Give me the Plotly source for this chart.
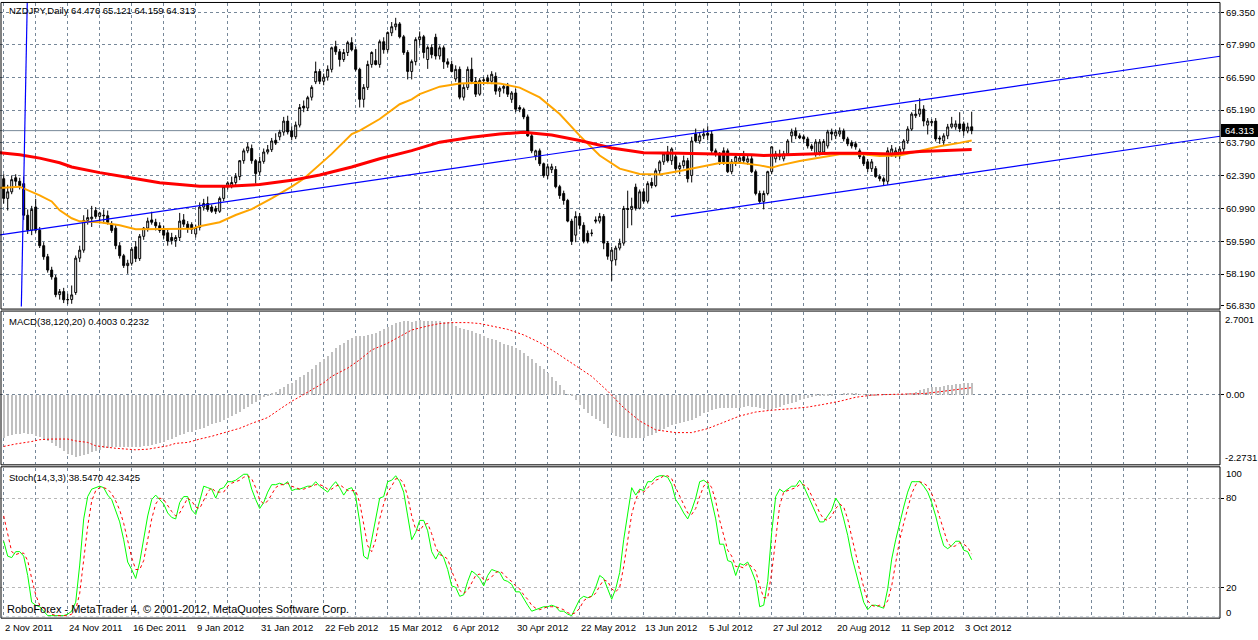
import plotly.graph_objects as go
from plotly.subplots import make_subplots

# NZDJPY daily, 2 Nov 2011 .. 5 Oct 2012 (bar index 0..242)
open_px = [
    62.26, 61.42, 61.70, 62.30, 62.15, 62.05, 60.70, 60.06, 61.05, 60.06,
    59.40, 58.93, 58.36, 58.03, 57.31, 57.44, 57.09, 57.10, 57.40, 58.87,
    59.21, 60.48, 60.55, 60.90, 60.65, 60.70, 60.68, 60.30, 60.15, 59.40,
    58.97, 58.55, 58.65, 59.35, 58.85, 59.80, 60.15, 60.50, 60.40, 60.25,
    60.10, 59.95, 59.75, 59.62, 59.75, 60.50, 60.32, 60.30, 59.90, 60.18,
    61.05, 61.20, 61.05, 60.98, 60.87, 61.42, 61.92, 61.95, 62.10, 62.35,
    63.03, 63.45, 63.55, 63.03, 62.55, 63.00, 63.40, 63.50, 63.90, 64.05,
    64.25, 64.72, 64.30, 64.05, 64.55, 65.36, 65.28, 65.74, 66.40, 66.84,
    66.42, 66.60, 66.93, 67.90, 67.68, 67.35, 67.65, 68.07, 67.77, 66.93,
    65.65, 66.16, 67.14, 67.30, 67.14, 68.11, 67.77, 68.49, 68.75, 68.87,
    68.32, 67.65, 66.84, 67.26, 68.20, 68.32, 67.35, 67.86, 68.30, 67.50,
    67.85, 67.25, 67.14, 66.52, 66.93, 65.74, 66.16, 66.93, 66.42, 65.87,
    66.45, 66.55, 66.42, 66.63, 66.00, 66.12, 66.20, 65.65, 65.92, 65.30,
    65.23, 64.90, 64.09, 63.24, 63.45, 62.90, 62.39, 62.65, 62.65, 61.92,
    61.63, 61.33, 60.45, 59.85, 60.65, 60.27, 59.93, 59.93, 60.50, 60.45,
    60.65, 59.51, 58.75, 58.80, 59.30, 59.51, 60.99, 60.95, 61.90, 61.00,
    61.70, 61.30, 62.10, 61.97, 62.60, 62.98, 63.40, 63.03, 63.20, 62.69,
    62.82, 63.03, 62.40, 64.17, 63.87, 64.09, 64.20, 64.17, 63.45, 63.32,
    63.45, 63.45, 62.56, 62.98, 63.00, 63.20, 62.98, 63.11, 62.56, 61.63,
    61.29, 61.63, 62.56, 63.11, 63.20, 63.11, 63.32, 64.09, 64.30, 64.09,
    64.05, 63.96, 63.66, 63.32, 63.40, 63.40, 63.66, 64.26, 64.09, 64.17,
    64.30, 63.96, 63.80, 63.75, 63.45, 63.20, 62.98, 62.69, 62.69, 62.35,
    62.26, 62.15, 63.24, 63.24, 63.24, 63.53, 63.87, 64.38, 64.95, 65.02,
    65.23, 64.55, 64.65, 64.72, 64.00, 63.87, 64.09, 64.47, 64.47, 64.60,
    64.60, 64.30, 64.476]
high_px = [
    62.45, 62.00, 62.40, 62.45, 62.30, 62.35, 60.95, 61.10, 61.40, 60.20,
    59.55, 59.05, 58.50, 58.15, 57.55, 57.60, 57.35, 57.70, 58.98, 59.40,
    60.70, 60.95, 61.10, 61.05, 60.85, 60.95, 60.90, 60.45, 60.30, 59.55,
    59.05, 58.80, 59.35, 59.60, 59.90, 60.20, 60.60, 60.85, 60.55, 60.40,
    60.25, 60.10, 59.95, 59.85, 60.80, 60.75, 60.45, 60.40, 60.30, 61.25,
    61.40, 61.50, 61.15, 61.10, 61.50, 61.95, 62.15, 62.35, 62.50, 63.05,
    63.55, 63.80, 63.72, 63.10, 63.20, 63.55, 63.70, 64.00, 64.20, 64.35,
    64.90, 64.95, 64.50, 64.70, 65.45, 65.60, 65.80, 66.25, 67.26, 66.95,
    66.75, 67.10, 67.90, 68.15, 67.80, 67.80, 68.15, 68.30, 67.90, 67.00,
    66.30, 67.30, 67.70, 67.80, 68.20, 68.30, 68.55, 68.95, 69.13, 68.95,
    68.40, 67.75, 67.35, 68.30, 68.55, 68.40, 67.95, 68.00, 68.45, 67.95,
    67.95, 67.40, 67.30, 67.10, 67.05, 66.30, 67.05, 67.43, 66.60, 66.55,
    66.60, 66.70, 66.85, 66.80, 66.20, 66.30, 66.35, 66.00, 66.10, 65.40,
    65.30, 65.00, 64.20, 63.50, 63.55, 62.95, 62.90, 62.90, 62.80, 62.00,
    61.75, 61.40, 60.55, 60.87, 60.80, 60.40, 60.05, 60.10, 60.65, 60.80,
    60.75, 59.60, 59.35, 59.40, 59.70, 61.10, 61.75, 61.45, 62.05, 61.80,
    61.85, 62.15, 62.30, 62.70, 63.05, 63.40, 63.66, 63.60, 63.30, 62.95,
    63.25, 63.15, 64.05, 64.40, 64.25, 64.40, 64.50, 64.30, 63.55, 63.40,
    63.60, 63.55, 63.10, 63.35, 63.30, 63.45, 63.30, 63.25, 62.65, 61.75,
    61.75, 62.60, 63.65, 63.45, 63.50, 63.45, 63.95, 64.40, 64.45, 64.20,
    64.15, 64.05, 63.75, 63.95, 63.95, 63.95, 64.35, 64.40, 64.35, 64.45,
    64.40, 64.05, 63.90, 63.85, 63.55, 63.30, 63.10, 63.10, 62.80, 62.45,
    62.35, 63.60, 63.70, 63.60, 63.65, 63.95, 64.50, 65.10, 65.45, 65.70,
    65.40, 64.85, 64.80, 64.85, 64.10, 64.20, 64.60, 64.90, 64.75, 65.10,
    64.70, 64.65, 65.121]
low_px = [
    61.20, 60.90, 61.60, 61.95, 61.80, 60.50, 59.90, 59.85, 59.95, 59.30,
    58.80, 58.25, 57.95, 57.20, 57.10, 56.95, 56.90, 56.92, 57.30, 58.70,
    59.10, 60.30, 60.20, 60.55, 60.35, 60.35, 60.30, 59.95, 59.25, 58.85,
    58.45, 58.20, 58.55, 58.70, 58.75, 59.65, 60.00, 60.30, 60.05, 59.95,
    59.70, 59.40, 59.45, 59.35, 59.60, 60.20, 59.95, 59.90, 59.75, 60.05,
    60.90, 60.85, 60.80, 60.75, 60.80, 61.30, 61.80, 61.85, 61.95, 62.20,
    62.90, 63.35, 62.90, 62.05, 62.40, 62.90, 63.30, 63.40, 63.70, 63.90,
    64.10, 64.15, 63.90, 63.95, 64.45, 65.10, 65.15, 65.60, 66.30, 66.30,
    66.25, 66.45, 66.80, 67.55, 67.05, 67.25, 67.50, 67.70, 66.85, 65.30,
    65.30, 66.05, 67.00, 67.10, 67.00, 67.60, 67.65, 68.35, 68.60, 68.25,
    67.55, 66.50, 66.50, 67.10, 67.95, 67.40, 66.95, 67.40, 67.35, 67.35,
    66.95, 67.00, 66.80, 66.40, 65.65, 65.60, 66.05, 66.30, 65.75, 65.80,
    66.25, 66.30, 66.30, 65.85, 65.75, 65.90, 65.75, 65.50, 65.10, 65.10,
    64.80, 64.05, 63.35, 63.05, 62.80, 62.30, 62.25, 62.50, 61.85, 61.40,
    61.15, 60.40, 59.43, 59.55, 60.10, 59.50, 59.50, 59.80, 60.35, 60.35,
    59.25, 58.80, 57.90, 58.55, 59.20, 59.40, 60.15, 60.27, 60.90, 60.95,
    61.20, 61.20, 61.85, 61.90, 62.45, 62.85, 62.95, 62.85, 62.60, 62.45,
    62.70, 62.10, 62.10, 63.80, 63.75, 63.95, 63.90, 63.35, 63.20, 62.85,
    62.85, 62.50, 62.45, 62.80, 62.90, 62.90, 62.85, 62.50, 61.55, 61.20,
    60.95, 61.55, 62.45, 62.95, 63.05, 63.00, 63.25, 63.80, 63.95, 63.95,
    63.80, 63.55, 63.45, 63.20, 63.25, 63.30, 63.55, 63.90, 63.95, 64.05,
    63.85, 63.65, 63.55, 63.50, 63.10, 62.80, 62.55, 62.55, 62.30, 62.15,
    61.97, 62.00, 63.20, 63.15, 63.10, 63.40, 63.75, 64.30, 64.85, 64.90,
    64.50, 64.15, 64.50, 63.85, 63.75, 63.70, 63.95, 64.40, 64.35, 64.25,
    64.10, 64.20, 64.159]
close_px = [
    61.42, 61.70, 62.22, 62.15, 61.97, 60.70, 60.06, 60.95, 60.06, 59.40,
    58.93, 58.36, 58.07, 57.31, 57.44, 57.09, 57.10, 57.30, 58.87, 59.21,
    60.48, 60.60, 60.62, 60.65, 60.80, 60.68, 60.40, 60.05, 59.40, 58.97,
    58.55, 58.65, 59.25, 58.85, 59.80, 60.15, 60.45, 60.40, 60.25, 60.05,
    59.85, 59.60, 59.62, 59.75, 60.45, 60.32, 60.15, 60.10, 60.18, 61.05,
    61.20, 60.95, 60.87, 60.87, 61.42, 61.92, 62.08, 62.10, 62.35, 63.03,
    63.45, 63.62, 63.03, 62.48, 63.00, 63.40, 63.50, 63.87, 63.78, 64.25,
    64.72, 64.26, 64.05, 64.55, 65.30, 65.28, 65.72, 66.16, 66.84, 66.42,
    66.60, 66.93, 67.85, 67.68, 67.35, 67.65, 68.07, 67.77, 66.93, 65.65,
    66.16, 67.14, 67.65, 67.14, 68.11, 67.77, 68.50, 68.75, 68.87, 68.32,
    67.65, 66.84, 67.26, 68.20, 68.32, 67.65, 67.86, 67.56, 67.50, 67.85,
    67.25, 67.15, 66.84, 66.93, 65.74, 66.16, 66.93, 66.42, 65.87, 66.45,
    66.48, 66.42, 66.72, 66.00, 66.12, 66.20, 65.87, 65.92, 65.23, 65.23,
    64.90, 64.09, 63.45, 63.45, 62.90, 62.39, 62.77, 62.77, 61.92, 61.54,
    61.33, 60.45, 59.59, 60.65, 60.27, 59.59, 59.59, 59.93, 60.45, 60.65,
    59.51, 58.95, 59.21, 59.30, 59.51, 60.99, 60.95, 61.08, 61.00, 61.70,
    61.30, 62.05, 61.97, 62.60, 62.98, 63.32, 63.03, 63.53, 62.69, 62.82,
    63.03, 62.26, 63.87, 63.87, 64.09, 64.17, 64.12, 63.45, 63.32, 62.98,
    62.98, 62.56, 62.98, 63.20, 63.15, 63.03, 63.11, 62.56, 61.63, 61.29,
    61.63, 62.56, 63.62, 63.32, 63.30, 63.32, 63.87, 64.26, 64.09, 64.00,
    63.96, 63.66, 63.55, 63.83, 63.83, 63.85, 64.26, 64.17, 64.26, 64.30,
    63.96, 63.75, 63.66, 63.62, 63.20, 62.90, 62.69, 62.98, 62.35, 62.26,
    62.15, 63.45, 63.53, 63.45, 63.53, 63.87, 64.38, 65.02, 65.02, 65.23,
    64.72, 64.72, 64.70, 63.96, 63.96, 64.09, 64.47, 64.60, 64.60, 64.40,
    64.30, 64.47, 64.313]

# moving averages (at these bars)
fast_ma_idx = [-1, 0, 4, 7, 9, 12, 14, 17, 19, 24, 29, 33, 37, 42, 47, 49, 54, 58, 62, 67,
               72, 75, 79, 82, 87, 89, 94, 99, 102, 104, 109, 114, 119, 124, 129, 134, 139, 144, 149, 154,
               159, 164, 169, 174, 179, 184, 189, 192, 194, 199, 204, 209, 214, 219, 224, 229, 234, 239, 242]
fast_ma = [61.88, 61.87, 61.92, 61.71, 61.55, 61.29, 60.91, 60.57, 60.44, 60.40,
           60.27, 60.10, 60.10, 60.10, 60.12, 60.23, 60.40, 60.71, 60.96, 61.42,
           61.92, 62.26, 62.85, 63.32, 64.17, 64.31, 64.81, 65.44, 65.65, 65.87,
           66.19, 66.33, 66.36, 66.33, 66.15, 65.73, 65.02, 64.10, 63.25, 62.69,
           62.46, 62.44, 62.59, 62.76, 62.93, 62.94, 62.83, 62.73, 62.83, 63.02,
           63.16, 63.30, 63.32, 63.23, 63.25, 63.46, 63.65, 63.79, 63.89]
slow_ma_idx = [-1, 0, 4, 9, 14, 17, 24, 32, 39, 49, 56, 64, 72, 79, 87, 94, 102, 109, 117, 124,
               130, 137, 144, 152, 160, 169, 179, 187, 190, 199, 207, 214, 222, 229, 237, 242]
slow_ma = [63.37, 63.35, 63.28, 63.14, 62.94, 62.76, 62.52, 62.29, 62.09, 61.94,
           61.94, 62.01, 62.19, 62.42, 62.76, 63.11, 63.46, 63.82, 64.03, 64.17,
           64.24, 64.13, 63.89, 63.57, 63.37, 63.35, 63.32, 63.28, 63.25, 63.30,
           63.35, 63.35, 63.32, 63.42, 63.49, 63.51]

# trend lines (bar index, price)
trend_long_idx = [-0.925, 304.075]
trend_long_px = [59.862, 67.489]
trend_low_idx = [166.8, 304.075]
trend_low_px = [60.642, 64.074]
trend_steep_idx = [5.9, 4.4]
trend_steep_px = [69.89, 56.71]
bid = 64.313

# MACD(38,120,20)
macd_hist = [
    -1.40, -1.35, -1.30, -1.28, -1.26, -1.24, -1.26, -1.28, -1.32, -1.37,
    -1.43, -1.50, -1.56, -1.65, -1.73, -1.82, -1.91, -1.97, -2.01, -1.99,
    -1.95, -1.91, -1.86, -1.82, -1.78, -1.74, -1.72, -1.70, -1.69, -1.69,
    -1.69, -1.69, -1.69, -1.69, -1.68, -1.67, -1.65, -1.63, -1.60, -1.56,
    -1.52, -1.47, -1.43, -1.37, -1.30, -1.26, -1.22, -1.19, -1.15, -1.11,
    -1.07, -1.00, -0.96, -0.91, -0.87, -0.81, -0.74, -0.68, -0.61, -0.55,
    -0.46, -0.38, -0.31, -0.23, -0.18, -0.08, -0.03, 0.05, 0.10, 0.18,
    0.27, 0.36, 0.40, 0.48, 0.57, 0.66, 0.75, 0.86, 0.97, 1.08,
    1.17, 1.28, 1.40, 1.52, 1.61, 1.70, 1.78, 1.85, 1.91, 1.93,
    1.93, 1.94, 1.97, 2.01, 2.08, 2.15, 2.21, 2.28, 2.34, 2.38,
    2.40, 2.40, 2.39, 2.42, 2.44, 2.42, 2.40, 2.40, 2.40, 2.40,
    2.39, 2.38, 2.36, 2.26, 2.19, 2.15, 2.12, 2.08, 2.03, 1.97,
    1.93, 1.86, 1.83, 1.80, 1.72, 1.67, 1.61, 1.58, 1.54, 1.45,
    1.37, 1.26, 1.17, 1.04, 0.94, 0.83, 0.72, 0.59, 0.46, 0.32,
    0.16, 0.03, -0.05, -0.18, -0.32, -0.46, -0.59, -0.70, -0.79, -0.86,
    -0.94, -1.08, -1.24, -1.32, -1.37, -1.39, -1.40, -1.40, -1.40, -1.41,
    -1.39, -1.35, -1.30, -1.24, -1.18, -1.11, -1.04, -0.99, -0.95, -0.91,
    -0.89, -0.86, -0.81, -0.75, -0.68, -0.59, -0.54, -0.48, -0.45, -0.43,
    -0.42, -0.41, -0.41, -0.42, -0.41, -0.38, -0.36, -0.38, -0.40, -0.43,
    -0.46, -0.48, -0.46, -0.44, -0.38, -0.33, -0.29, -0.25, -0.22, -0.16,
    -0.14, -0.10, -0.08, -0.05, -0.03, -0.02, -0.01, -0.01, 0.00, 0.02,
    0.04, 0.05, 0.06, 0.05, 0.03, 0.01, -0.01, -0.01, -0.01, 0.00,
    0.00, 0.01, 0.02, 0.03, 0.03, 0.03, 0.05, 0.08, 0.10, 0.15,
    0.20, 0.23, 0.27, 0.27, 0.27, 0.29, 0.31, 0.32, 0.36, 0.37,
    0.38, 0.38, 0.4003]
macd_sig_idx = [0, 3, 7, 9, 12, 16, 18, 21, 23, 26, 28, 31, 33, 36, 38, 41, 43, 46, 49, 52,
                56, 59, 62, 66, 69, 72, 75, 77, 80, 82, 86, 89, 92, 96, 99, 102, 106, 109, 112, 116,
                119, 122, 126, 130, 134, 138, 142, 147, 151, 155, 159, 163, 168, 172, 176, 180, 184, 188, 192, 197,
                201, 205, 209, 213, 217, 221, 226, 230, 234, 238, 242]
macd_sig = [-1.69, -1.61, -1.53, -1.47, -1.45, -1.45, -1.51, -1.56, -1.67, -1.73,
            -1.75, -1.78, -1.80, -1.78, -1.73, -1.67, -1.59, -1.56, -1.45, -1.36,
            -1.21, -1.10, -0.94, -0.75, -0.48, -0.22, 0.00, 0.16, 0.38, 0.59,
            0.86, 1.13, 1.45, 1.67, 1.88, 2.10, 2.23, 2.31, 2.34, 2.34,
            2.31, 2.23, 2.12, 1.94, 1.69, 1.37, 1.02, 0.59, 0.11, -0.43,
            -0.86, -1.15, -1.24, -1.24, -1.11, -0.91, -0.70, -0.57, -0.51, -0.46,
            -0.41, -0.32, -0.22, -0.09, -0.02, 0.00, 0.01, 0.03, 0.09, 0.16,
            0.2232]

# Stochastic(14,3,3)
stoch_main = [
    51, 41, 40, 44, 44, 41, 28, 10, 8, 7,
    4, 1, 1, 1, 1, 1, 2, 4, 10, 35,
    66, 81, 86, 87, 88, 87, 82, 79, 72, 64,
    52, 37, 32, 26, 37, 52, 68, 79, 82, 79,
    76, 70, 67, 66, 77, 81, 81, 72, 69, 78,
    88, 87, 86, 80, 86, 87, 91, 91, 92, 94,
    96, 96, 86, 79, 73, 77, 84, 89, 89, 90,
    89, 91, 85, 86, 86, 87, 88, 88, 91, 88,
    86, 84, 88, 91, 87, 82, 86, 87, 81, 64,
    41, 39, 52, 66, 80, 81, 91, 92, 95, 91,
    84, 68, 52, 57, 65, 65, 58, 44, 39, 44,
    40, 32, 21, 20, 14, 15, 24, 31, 29, 26,
    21, 28, 32, 31, 30, 25, 24, 22, 17, 17,
    12, 8, 4, 5, 6, 7, 7, 8, 7, 4,
    4, 2, 1, 6, 12, 14, 13, 14, 20, 28,
    26, 19, 12, 19, 30, 52, 68, 87, 82, 86,
    85, 91, 91, 94, 95, 95, 94, 89, 79, 75,
    70, 66, 72, 80, 91, 92, 90, 79, 66, 49,
    49, 38, 37, 28, 36, 35, 37, 31, 24, 7,
    8, 24, 57, 81, 86, 84, 86, 88, 88, 92,
    88, 82, 76, 69, 64, 64, 68, 72, 80, 76,
    66, 55, 41, 30, 19, 10, 5, 8, 8, 7,
    6, 19, 39, 52, 64, 74, 84, 91, 91, 91,
    88, 84, 77, 68, 57, 48, 46, 48, 51, 51,
    45, 44, 38.547]
stoch_signal = [
    68, 55, 44, 42, 43, 43, 38, 26, 15, 8,
    6, 4, 2, 1, 1, 1, 1, 2, 5, 16,
    37, 61, 78, 85, 87, 87, 86, 83, 78, 72,
    63, 51, 40, 32, 32, 38, 52, 66, 76, 80,
    79, 75, 71, 68, 70, 75, 80, 78, 74, 73,
    78, 84, 87, 84, 84, 84, 88, 90, 91, 92,
    94, 95, 93, 87, 79, 76, 78, 83, 87, 89,
    89, 90, 88, 87, 86, 86, 87, 88, 89, 89,
    88, 86, 86, 88, 89, 87, 85, 85, 85, 77,
    62, 48, 44, 52, 66, 76, 84, 88, 93, 93,
    90, 81, 68, 59, 58, 62, 63, 56, 47, 42,
    41, 39, 31, 24, 18, 16, 18, 23, 28, 29,
    25, 25, 27, 30, 31, 29, 26, 24, 21, 19,
    15, 12, 8, 6, 5, 6, 7, 7, 7, 6,
    5, 3, 2, 3, 6, 11, 13, 14, 16, 21,
    25, 24, 19, 17, 20, 34, 50, 69, 79, 85,
    84, 87, 89, 92, 93, 95, 95, 93, 87, 81,
    75, 70, 69, 73, 81, 88, 91, 87, 78, 65,
    55, 45, 41, 34, 34, 33, 36, 34, 31, 21,
    13, 13, 30, 54, 75, 84, 85, 86, 87, 89,
    89, 87, 82, 76, 70, 66, 65, 68, 73, 76,
    74, 66, 54, 42, 30, 20, 11, 8, 7, 8,
    7, 11, 21, 37, 52, 63, 74, 83, 89, 91,
    90, 88, 83, 76, 67, 58, 50, 47, 48, 50,
    49, 47, 42.3425]

date_tick_idx = [0, 16, 32, 48, 64, 80, 96, 112, 128, 144, 160, 176, 192, 208, 224, 240]
date_labels = ["2 Nov 2011", "24 Nov 2011", "16 Dec 2011", "9 Jan 2012", "31 Jan 2012",
               "22 Feb 2012", "15 Mar 2012", "6 Apr 2012", "30 Apr 2012", "22 May 2012",
               "13 Jun 2012", "5 Jul 2012", "27 Jul 2012", "20 Aug 2012", "11 Sep 2012",
               "3 Oct 2012"]
price_ticks = [69.35, 67.99, 66.59, 65.19, 63.79, 62.39, 60.99, 59.59, 58.19, 56.83]

W, H = 1258, 640
FONT = "Liberation Sans"
GRID = "#778899"


def fx(px):
    return px / W


def fy(px):
    return 1 - px / H


bars = list(range(len(close_px)))

fig = make_subplots(rows=3, cols=1, shared_xaxes=True, vertical_spacing=0)

fig.add_trace(go.Candlestick(
    x=bars, open=open_px, high=high_px, low=low_px, close=close_px,
    increasing=dict(line=dict(color="black", width=1), fillcolor="white"),
    decreasing=dict(line=dict(color="black", width=1), fillcolor="black"),
    whiskerwidth=0, hoverinfo="skip"), row=1, col=1)
fig.add_trace(go.Scatter(x=fast_ma_idx, y=fast_ma, mode="lines",
                         line=dict(color="#FFA500", width=2)), row=1, col=1)
fig.add_trace(go.Scatter(x=slow_ma_idx, y=slow_ma, mode="lines",
                         line=dict(color="#FF0000", width=3)), row=1, col=1)
for tx, ty in ((trend_long_idx, trend_long_px), (trend_low_idx, trend_low_px),
               (trend_steep_idx, trend_steep_px)):
    fig.add_trace(go.Scatter(x=tx, y=ty, mode="lines",
                             line=dict(color="#0000FF", width=1.2)), row=1, col=1)

fig.add_trace(go.Bar(x=bars, y=macd_hist, width=0.3,
                     marker=dict(color="#C0C0C0", line=dict(width=0))), row=2, col=1)
fig.add_trace(go.Scatter(x=macd_sig_idx, y=macd_sig, mode="lines",
                         line=dict(color="#FF0000", width=1, dash="2px,2px")), row=2, col=1)

fig.add_trace(go.Scatter(x=bars, y=stoch_main, mode="lines",
                         line=dict(color="#00FF00", width=1)), row=3, col=1)
fig.add_trace(go.Scatter(x=bars, y=stoch_signal, mode="lines",
                         line=dict(color="#FF0000", width=1, dash="3px,3px")), row=3, col=1)

fig.update_layout(width=W, height=H, margin=dict(l=0, r=0, t=0, b=0),
                  paper_bgcolor="white", plot_bgcolor="white", showlegend=False,
                  font=dict(family=FONT, size=9.5, color="black"), bargap=0)

grid_idx = list(range(0, 305, 8))
fig.update_xaxes(domain=[0, fx(1220)], range=[-0.925, 304.075], tickmode="array",
                 tickvals=grid_idx, showticklabels=False, ticks="", showgrid=True,
                 gridcolor=GRID, griddash="3px,3px", gridwidth=1, zeroline=False,
                 showline=False, rangeslider=dict(visible=False), fixedrange=True)

fig.update_yaxes(row=1, col=1, domain=[fy(309), fy(3)], range=[56.80, 69.764],
                 side="right", tickmode="array", tickvals=price_ticks,
                 ticktext=[f"{v:.3f}" for v in price_ticks], ticks="outside",
                 ticklen=3, tickcolor="black", showgrid=True, gridcolor=GRID,
                 griddash="3px,3px", zeroline=False, showline=False)
fig.update_yaxes(row=2, col=1, domain=[fy(468), fy(314)], range=[-2.2731, 2.7001],
                 side="right", tickmode="array", tickvals=[0], showticklabels=False,
                 ticks="outside", ticklen=3, tickcolor="black", showgrid=True,
                 gridcolor=GRID, griddash="3px,3px", zeroline=False, showline=False)
fig.update_yaxes(row=3, col=1, domain=[fy(622), fy(472)], range=[0, 100],
                 side="right", tickmode="array", tickvals=[20, 80], showticklabels=False,
                 ticks="outside", ticklen=3, tickcolor="black", showgrid=True,
                 gridcolor="#B8B8B8", griddash="3px,3px", zeroline=False, showline=False)

# panel frames
for top, bot in ((2.5, 311.5), (313.5, 468.5), (470.5, 623)):
    fig.add_shape(type="rect", xref="paper", yref="paper", x0=fx(1), x1=fx(1220),
                  y0=fy(bot), y1=fy(top), line=dict(color="black", width=1))
fig.add_shape(type="line", xref="x3 domain", yref="y3", x0=0, x1=1, y0=0, y1=0,
              line=dict(color=GRID, width=1, dash="3px,3px"))
fig.add_shape(type="line", xref="x domain", yref="y", x0=0, x1=1, y0=bid, y1=bid,
              line=dict(color=GRID, width=1), layer="below")
fig.add_shape(type="rect", xref="paper", yref="paper", x0=fx(1221), x1=fx(1258),
              y0=fy(138), y1=fy(125), fillcolor="black", line=dict(width=0))

ann = [
    dict(x=fx(1223), y=fy(131.5), text=f"{bid:.3f}", font=dict(color="white")),
    dict(x=fx(7), y=fy(11), text="NZDJPY,Daily 64.476 65.121 64.159 64.313"),
    dict(x=fx(7), y=fy(324), text="MACD(38,120,20) 0.4003 0.2232"),
    dict(x=fx(7), y=fy(481), text="Stoch(14,3,3) 38.5470 42.3425"),
    dict(x=fx(5), y=fy(614), text="RoboForex - MetaTrader 4, © 2001-2012, MetaQuotes Software Corp.",
         font=dict(size=11)),
    dict(x=fx(1223), y=fy(322), text="2.7001"),
    dict(x=fx(1224), y=fy(398), text="0.00"),
    dict(x=fx(1223), y=fy(461), text="-2.2731"),
    dict(x=fx(1224), y=fy(477), text="100"),
    dict(x=fx(1224), y=fy(501), text="80"),
    dict(x=fx(1224), y=fy(592), text="20"),
    dict(x=fx(1224), y=fy(617), text="0"),
]
for a in ann:
    fig.add_annotation(xref="paper", yref="paper", xanchor="left", yanchor="middle",
                       showarrow=False, **a)
for i, lab in zip(date_tick_idx, date_labels):
    fig.add_annotation(xref="x3", yref="paper", x=i, y=fy(632), text=lab,
                       xanchor="left", yanchor="middle", xshift=-1, showarrow=False)

# the page's default body margin would shift the whole chart by 8px
fig.write_html("out.html", config={"displayModeBar": False},
               post_script="document.body.style.margin='0px';")
